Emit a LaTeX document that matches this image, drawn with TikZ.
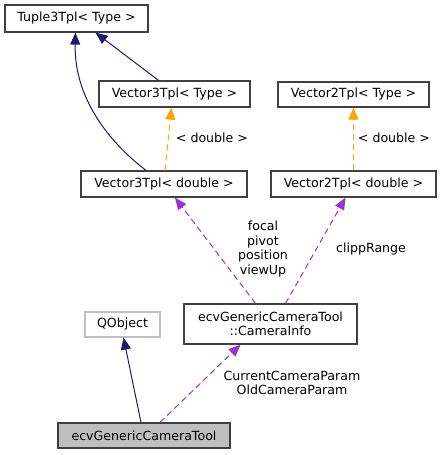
\documentclass[tikz,border=0pt]{standalone}
\usepackage{fontspec}
\setmainfont{DejaVu Sans}
\usetikzlibrary{arrows.meta}
\definecolor{navy}{HTML}{191970}
\definecolor{orng}{HTML}{FFA500}
\definecolor{purp}{HTML}{9A32CD}
\definecolor{boxgray}{HTML}{BFBFBF}
\definecolor{edgegray}{HTML}{404040}
\begin{document}
\begin{tikzpicture}[x=1pt,y=-1pt,
  font=\fontsize{12.6}{14.5}\selectfont,
  cls/.style={draw=edgegray,line width=1.2pt,fill=white,inner sep=0pt,align=center},
  ext/.style={draw=boxgray,line width=1.2pt,fill=white,inner sep=0pt},
  tip/.style={-{Triangle[length=12pt,width=10pt]}},
  inh/.style={draw=navy,line width=1pt,tip},
  tmpl/.style={draw=orng,line width=1pt,dash pattern=on 6pt off 4pt,tip},
  use/.style={draw=purp,line width=1pt,dash pattern=on 6pt off 4pt,tip},
  lbl/.style={inner sep=0pt,align=center}]
\useasboundingbox (0,0) rectangle (441,455);
\node[cls,minimum width=143pt,minimum height=27pt] (tuple) at (76.5,18.5) {Tuple3Tpl< Type >};
\node[cls,minimum width=151pt,minimum height=26pt] (v3t) at (174.5,94) {Vector3Tpl< Type >};
\node[cls,minimum width=166pt,minimum height=26pt] (v3d) at (164,184) {Vector3Tpl< double >};
\node[cls,minimum width=151pt,minimum height=25pt] (v2t) at (353.5,94.5) {Vector2Tpl< Type >};
\node[cls,minimum width=165pt,minimum height=26pt] (v2d) at (353.5,184) {Vector2Tpl< double >};
\node[ext,minimum width=75pt,minimum height=25pt] (qobj) at (122.5,324.5) {QObject};
\node[cls,minimum width=173pt,minimum height=40pt] (cam) at (270.5,324) {ecvGenericCameraTool\\::CameraInfo};
\node[cls,fill=boxgray,minimum width=172pt,minimum height=25pt] (tool) at (144,435.5) {ecvGenericCameraTool};

\draw[inh] ([xshift=-16pt]v3t.north) -- ([xshift=19pt]tuple.south);
\draw[inh] ([xshift=-18pt]v3d.north) .. controls (100,135) and (74,90) .. ([xshift=-1pt]tuple.south);
\draw[tmpl] ([xshift=1pt]v3d.north) -- ([xshift=-3pt]v3t.south);
\draw[tmpl] (v2d.north) -- (v2t.south);
\draw[use] ([xshift=-15pt]cam.north) -- ([xshift=11pt]v3d.south);
\draw[use] ([xshift=15pt]cam.north) -- ([xshift=-8pt]v2d.south);
\draw[inh] ([xshift=-3pt]tool.north) -- ([xshift=1pt]qobj.south);
\draw[use] ([xshift=16pt]tool.north) -- ([xshift=-30pt]cam.south);

\node[lbl] (l1) at (212,138) {< double >};
\node[lbl] (l2) at (394,138) {< double >};
\node[lbl] (l3) at (263,249) {focal\\pivot\\position\\viewUp};
\node[lbl] (l4) at (371,249) {clippRange};
\node[lbl] (l5) at (292,383) {CurrentCameraParam\\OldCameraParam};
\end{tikzpicture}
\end{document}
